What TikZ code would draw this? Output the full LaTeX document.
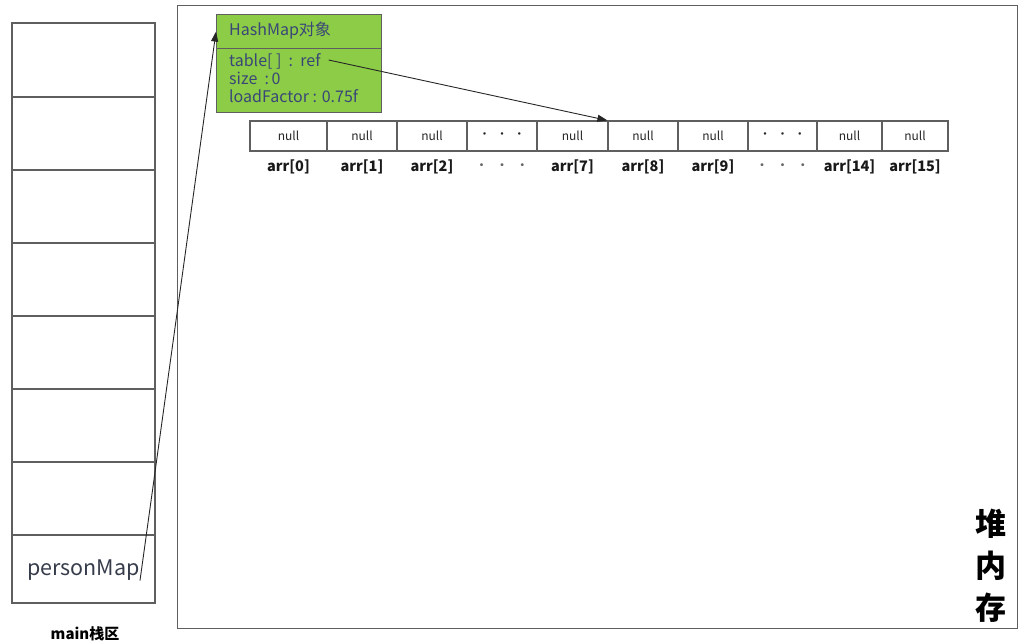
\documentclass[tikz,border=0pt]{standalone}
\usepackage{fontspec}
\setmainfont{Noto Sans CJK SC}
\usetikzlibrary{arrows.meta}
\definecolor{linegray}{RGB}{95,95,95}
\definecolor{objgreen}{RGB}{140,204,70}
\definecolor{objtext}{RGB}{58,70,120}
\definecolor{stacktext}{RGB}{55,60,75}
\begin{document}
\begin{tikzpicture}[x=1pt,y=-1pt,
  frame/.style={draw=linegray, line width=1.3pt, inner sep=0pt},
  slot/.style={draw=linegray, line width=1.3pt, inner sep=0pt, minimum width=143},
  objbox/.style={draw=linegray, line width=1.2pt, fill=objgreen, inner sep=0pt, minimum width=165},
  objtxt/.style={anchor=west, inner sep=0pt, text=objtext, font=\fontsize{16}{18}\selectfont},
  cellbox/.style={draw=linegray, line width=1.2pt, inner sep=0pt, minimum height=30,
    text=black!85, font=\fontsize{12}{14}\selectfont},
  idx/.style={inner sep=0pt, text=black!90, font=\bfseries\fontsize{14.5}{16}\selectfont},
  dotidx/.style={inner sep=0pt, text=black!60, font=\fontsize{14}{16}\selectfont},
  ptr/.style={draw=black!85, line width=0.9pt, -{Triangle[length=10pt,width=7pt]}}
]
\useasboundingbox (0,0) rectangle (1030,644);

% stack frame of main: eight slots
\foreach \i/\t/\b in {1/23/97, 2/97/170, 3/170/243, 4/243/316, 5/316/389, 6/389/462, 7/462/535, 8/535/603}
  \node[slot, minimum height={\b-\t}] (s\i) at (83.5,{(\t+\b)/2}) {};
\node[inner sep=0pt, anchor=east, text=stacktext, font=\fontsize{21.5}{24}\selectfont] (pm) at (140,570) {personMap};
\node[font=\bfseries\fontsize{15}{17}\selectfont] (mainlbl) at (85,634) {main栈区};

% heap area
\node[frame, anchor=north west, minimum width=840, minimum height=623] (heap) at (177,5) {};
\node[align=center, inner sep=0pt, font=\bfseries\fontsize{31}{42}\selectfont] (heaplbl) at (991,566) {堆\\内\\存};

% HashMap object
\node[objbox, anchor=north west, minimum height=34] (hmt) at (216,14) {};
\node[objbox, anchor=north west, minimum height=64] (hmf) at (216,48) {};
\node[objtxt] (title) at (229,31) {HashMap对象};
\node[objtxt] (fref) at (229,61) {table[ ]\ \ :\ \ ref};
\node[objtxt] (fsize) at (229,78) {size\ \ :\,0};
\node[objtxt] (fload) at (229,96) {loadFactor : 0.75f};

% table array with 16 slots
\foreach \i/\l/\r/\t in {
  0/250/327/null, 1/327/397/null, 2/397/467/null, 3/467/537/{·\ \ ·\ \ ·},
  4/537/608/null, 5/608/678/null, 6/678/748/null, 7/748/817/{·\ \ ·\ \ ·},
  8/817/882/null, 9/882/948/null}
  \node[cellbox, minimum width={\r-\l}] (c\i) at ({(\l+\r)/2},136) {\t};

% index labels under the slots
\foreach \i/\lab in {0/{arr[0]}, 1/{arr[1]}, 2/{arr[2]}, 4/{arr[7]}, 5/{arr[8]},
  6/{arr[9]}, 8/{arr[14]}, 9/{arr[15]}}
  \node[idx] (a\i) at (c\i.center |- 0,167) {\lab};
\foreach \i in {3,7}
  \node[dotidx] (a\i) at (c\i.center |- 0,167) {·\ \ ·\ \ ·};

% references
\draw[ptr] (pm.south east) -- (hmt.west);
\draw[ptr] ([xshift=8pt,yshift=1pt]fref.east) -- (c5.north west);
\end{tikzpicture}
\end{document}
